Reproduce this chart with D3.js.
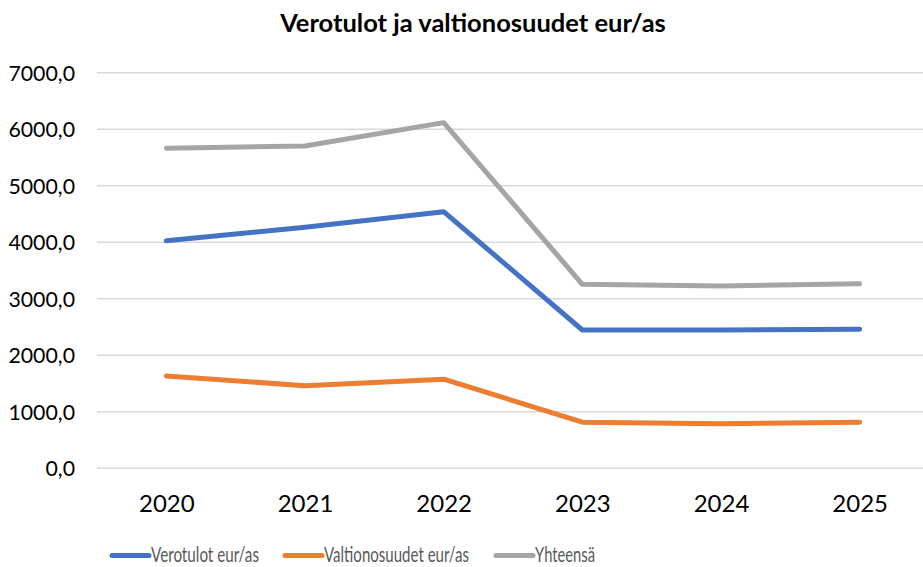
<!DOCTYPE html>
<html>
<head>
<meta charset="utf-8">
<script src="https://cdn.jsdelivr.net/npm/d3@7"></script>
<style>
  body { margin: 0; background: #fff; }
  text { font-family: Lato, "Open Sans", sans-serif; }
  .title { font-weight: bold; font-size: 25.5px; fill: #000; }
  .tick text { fill: #000; }
  .legend text { font-size: 21px; fill: #595959; }
</style>
</head>
<body>
<svg class="chart"></svg>
<script>
// data
var years = ["2020", "2021", "2022", "2023", "2024", "2025"];
var verotulot = [4028, 4265, 4541, 2447, 2447, 2460];
var valtionosuudet = [1633, 1462, 1577, 817, 790, 814];
var yhteensa = [5663, 5703, 6116, 3256, 3226, 3267];
var yTicks = [0, 1000, 2000, 3000, 4000, 5000, 6000, 7000];

var series = [
    {name: "Verotulot eur/as", values: verotulot, color: "#4472C4"},
    {name: "Valtionosuudet eur/as", values: valtionosuudet, color: "#ED7D31"},
    {name: "Yhteensä", values: yhteensa, color: "#A5A5A5"}
];

var screen = {width: 923, height: 567};
var margins = {left: 97, right: -6, top: 72.7, bottom: 98.7};
var graph = {
    width: screen.width - margins.left - margins.right,
    height: screen.height - margins.top - margins.bottom
};

var svg = d3.select(".chart")
    .attr("width", screen.width)
    .attr("height", screen.height);

var xScale = d3.scalePoint()
    .domain(years)
    .range([0, graph.width])
    .padding(0.5);

var yScale = d3.scaleLinear()
    .domain([0, 7000])
    .range([graph.height, 0]);

var target = svg.append("g")
    .attr("transform", "translate(" + margins.left + "," + margins.top + ")");

// gridlines
target.append("g")
    .selectAll("line")
    .data(yTicks)
    .enter()
    .append("line")
    .attr("x1", 0)
    .attr("x2", graph.width)
    .attr("y1", function(d) { return yScale(d); })
    .attr("y2", function(d) { return yScale(d); })
    .attr("stroke", "#D9D9D9")
    .attr("stroke-width", 1.5);

var fmt = function(d) { return d3.format(".1f")(d).replace(".", ","); };

var yAxis = d3.axisLeft(yScale)
    .tickValues(yTicks)
    .tickFormat(fmt)
    .tickSize(0)
    .tickPadding(22);

target.append("g")
    .call(yAxis)
    .call(function(g) { g.select(".domain").remove(); })
    .selectAll("text")
    .attr("font-size", 21.3)
    .attr("dy", "0.36em");

var xAxis = d3.axisBottom(xScale)
    .tickSize(0)
    .tickPadding(26.5);

target.append("g")
    .attr("transform", "translate(0," + graph.height + ")")
    .call(xAxis)
    .call(function(g) { g.select(".domain").remove(); })
    .selectAll("text")
    .attr("font-size", 24);

var line = d3.line()
    .x(function(d, i) { return xScale(years[i]); })
    .y(function(d) { return yScale(d); });

target.selectAll(".series")
    .data(series)
    .enter()
    .append("path")
    .attr("d", function(s) { return line(s.values); })
    .attr("fill", "none")
    .attr("stroke", function(s) { return s.color; })
    .attr("stroke-width", 5)
    .attr("stroke-linecap", "round")
    .attr("stroke-linejoin", "round");

svg.append("text")
    .classed("title", true)
    .attr("text-anchor", "middle")
    .attr("x", 473)
    .attr("y", 32)
    .text("Verotulot ja valtionosuudet eur/as");

// legend
var legendX = [112, 285, 496];
var legendW = [108, 145, 60];
var legend = svg.append("g").classed("legend", true);
var items = legend.selectAll("g")
    .data(series)
    .enter()
    .append("g")
    .attr("transform", function(s, i) { return "translate(" + legendX[i] + ",555.5)"; });

items.append("line")
    .attr("x1", 0)
    .attr("x2", 37)
    .attr("stroke", function(s) { return s.color; })
    .attr("stroke-width", 5)
    .attr("stroke-linecap", "round");

items.append("text")
    .attr("x", 39)
    .attr("y", 6.5)
    .attr("textLength", function(s, i) { return legendW[i]; })
    .attr("lengthAdjust", "spacingAndGlyphs")
    .text(function(s) { return s.name; });
</script>
</body>
</html>
